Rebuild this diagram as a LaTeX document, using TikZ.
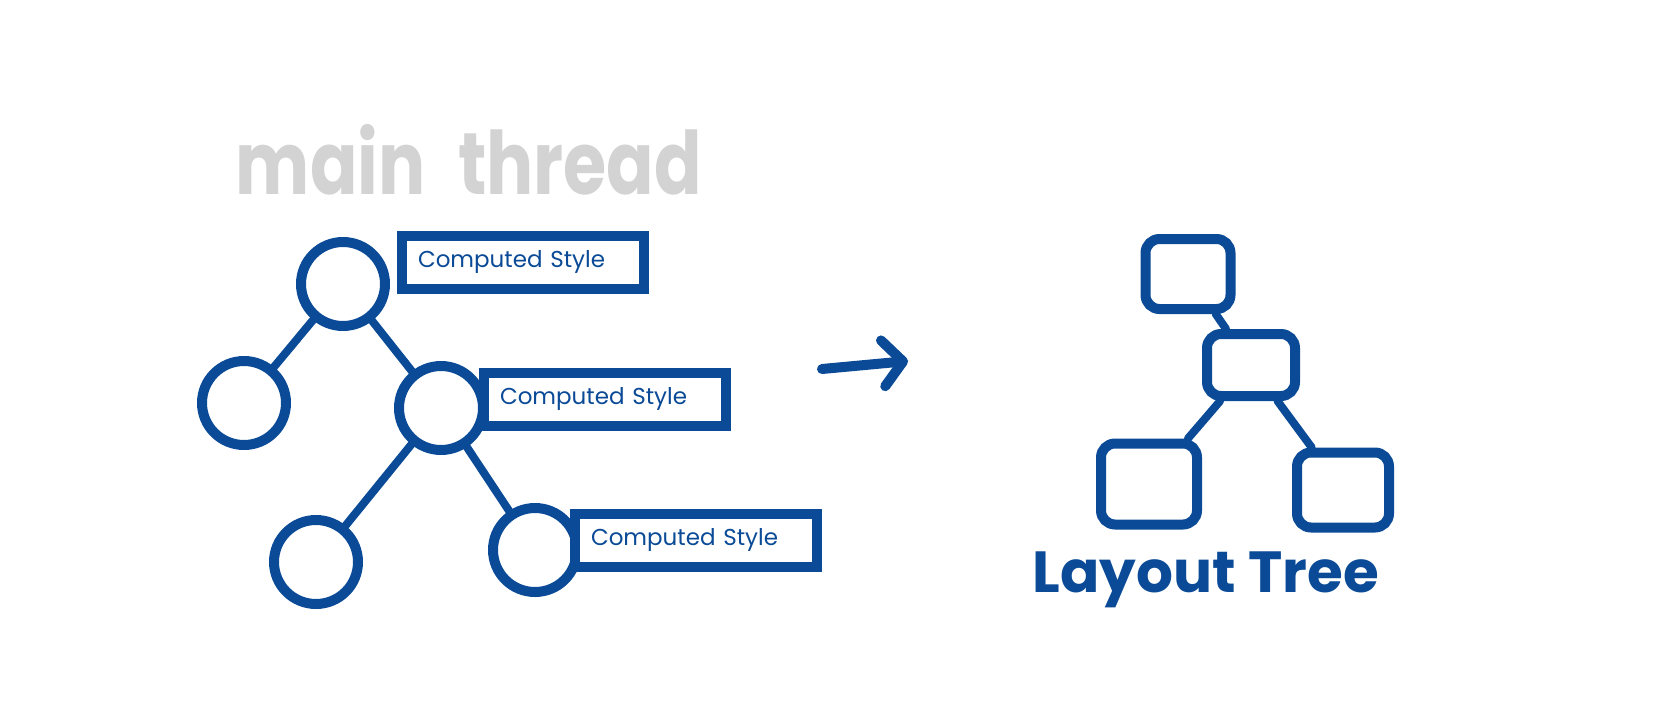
\documentclass[tikz,border=0pt]{standalone}
\usepackage{fontspec}
\setmainfont{Poppins}
\usepackage{xcolor}
\usetikzlibrary{arrows.meta, positioning}
\definecolor{inkblue}{RGB}{10,74,150}
\definecolor{pencil}{RGB}{211,211,211}

\begin{document}
\begin{tikzpicture}[
  x=1pt, y=-1pt,
  dom/.style={draw=inkblue, circle, line width=10pt, minimum size=84pt, inner sep=0pt},
  cstyle/.style={draw=inkblue, fill=white, line width=10pt, text width=210pt, inner xsep=16pt,
                 minimum height=53pt, align=left, text=inkblue, font=\fontsize{23}{25}\selectfont},
  lbox/.style={draw=inkblue, line width=10pt, rounded corners=14pt, inner sep=0pt},
  link/.style={draw=inkblue, line width=8pt, line cap=round},
  arr/.style={-{Straight Barb[length=20pt, width=46pt, round]}, draw=inkblue, line width=10pt, line cap=round}
]
  \useasboundingbox (0,0) rectangle (1668,720);

  \node[text=pencil, font=\fontsize{70}{70}\selectfont\bfseries] (title) at (469,160)
    {\scalebox{1}[1.25]{main\hspace{18pt} thread}};

  \node[dom] (c1) at (343,284) {};
  \node[dom] (c2) at (244,403) {};
  \node[dom] (c3) at (441,408) {};
  \node[dom] (c4) at (316,562) {};
  \node[dom] (c5) at (535,550) {};

  \draw[link] (c1) -- (c2);
  \draw[link] (c1) -- (c3);
  \draw[link] (c3) -- (c4);
  \draw[link] (c3) -- (c5);

  \node[cstyle] (s1) at (523,262) {Computed Style};
  \node[cstyle] (s2) at (605,399) {Computed Style};
  \node[cstyle] (s3) at (696,540) {Computed Style};

  \coordinate (arrS) at (822,369);
  \coordinate (arrE) at (908,361);
  \draw[arr] (arrS) -- (arrE);

  \node[lbox, minimum width=85pt, minimum height=70pt] (t1) at (1188,274) {};
  \node[lbox, minimum width=88pt, minimum height=62pt] (t2) at (1251,365) {};
  \node[lbox, minimum width=96pt, minimum height=81pt] (t3) at (1149,484) {};
  \node[lbox, minimum width=92pt, minimum height=75pt] (t4) at (1343,490) {};

  \draw[link] (t1) -- (t2);
  \draw[link] (t2) -- (t3);
  \draw[link] (t2) -- (t4);

  \node[text=inkblue, font=\fontsize{58}{58}\selectfont\bfseries] (ltree) at (1206,580) {Layout Tree};
\end{tikzpicture}
\end{document}
